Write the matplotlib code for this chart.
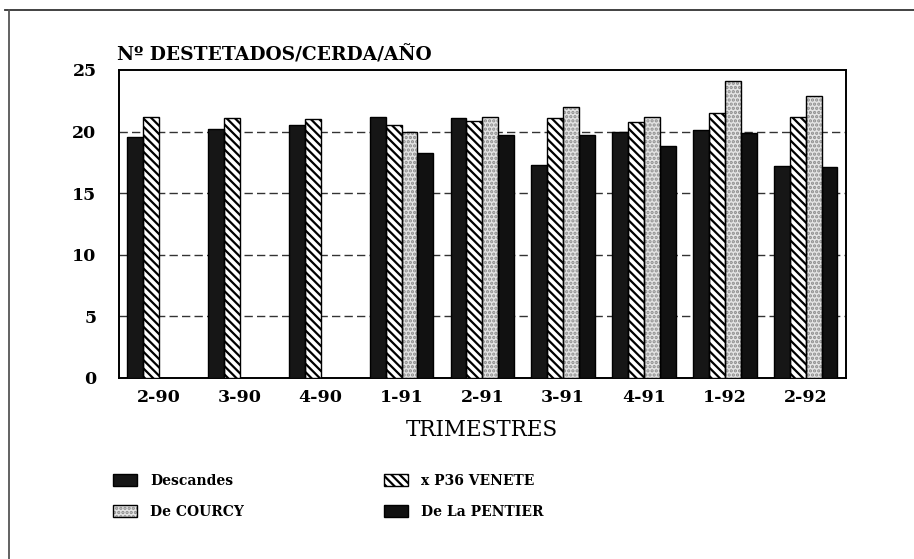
import numpy as np
import matplotlib
matplotlib.use("Agg")
import matplotlib.pyplot as plt
from matplotlib.patches import Patch
from matplotlib.lines import Line2D

categories = ["2-90", "3-90", "4-90", "1-91", "2-91", "3-91", "4-91", "1-92", "2-92"]
descandes = [19.6, 20.2, 20.5, 21.2, 21.1, 17.3, 20.0, 20.1, 17.2]
p36_venete = [21.2, 21.1, 21.0, 20.5, 20.9, 21.1, 20.8, 21.5, 21.2]
de_courcy = [np.nan, np.nan, np.nan, 20.0, 21.2, 22.0, 21.2, 24.1, 22.9]
de_la_pentier = [np.nan, np.nan, np.nan, 18.3, 19.7, 19.7, 18.8, 19.9, 17.1]
series_labels = ["Descandes", "x P36 VENETE", "De COURCY", "De La PENTIER"]
yticks = [0, 5, 10, 15, 20, 25]

plt.rcParams['hatch.linewidth'] = 1.6

BLACK = '#161616'
# fill styles (hatch colour follows edgecolor) ; an outline is drawn on top
styles = [
    dict(facecolor=BLACK, edgecolor=BLACK, hatch=None),
    dict(facecolor='white', edgecolor='black', hatch='\\\\\\\\'),
    dict(facecolor='#e4e4e4', edgecolor='#8c8c8c', hatch='....'),
    dict(facecolor='#111111', edgecolor='#111111', hatch=None),
]

fig = plt.figure(figsize=(9.14, 5.59), dpi=100)
ax = fig.add_axes([0.1299, 0.3238, 0.7957, 0.551])

x = np.arange(len(categories))
w = 0.197
series = [descandes, p36_venete, de_courcy, de_la_pentier]
offsets = [-1.5, -0.5, 0.5, 1.5]
for vals, off, st in zip(series, offsets, styles):
    ax.bar(x + off * w, vals, width=w, linewidth=0.0, zorder=3, **st)
    ax.bar(x + off * w, vals, width=w, fill=False, edgecolor='black',
           linewidth=1.0, zorder=4)

ax.set_xlim(-0.5, len(categories) - 0.5)
ax.set_ylim(0, 25)
ax.set_yticks(yticks)
ax.set_yticklabels([str(t) for t in yticks], fontfamily='DejaVu Serif',
                   fontweight='bold', fontsize=12.5)
ax.set_xticks(x)
ax.set_xticklabels(categories, fontfamily='DejaVu Serif', fontweight='bold', fontsize=12.5)
ax.tick_params(axis='both', length=0, pad=8)
ax.tick_params(axis='y', pad=16)

for t in [5, 10, 15, 20]:
    ax.axhline(t, color='#333333', linestyle=(0, (6, 3)), linewidth=1.0, zorder=1)

for s in ax.spines.values():
    s.set_linewidth(1.4)
    s.set_color('black')

ax.set_xlabel("TRIMESTRES", fontfamily='DejaVu Serif', fontsize=15.5, labelpad=9)
fig.text(117 / 914, 1 - 55 / 559, "Nº DESTETADOS/CERDA/AÑO", fontfamily='DejaVu Serif',
         fontweight='bold', fontsize=13.4, ha='left', va='center')

handles = [(Patch(linewidth=0, **st), Patch(fill=False, edgecolor='black', linewidth=1.0))
           for st in styles]
legkw = dict(frameon=False, loc='upper left', handlelength=1.75, handleheight=1.0,
             handletextpad=0.9, labelspacing=1.2, borderaxespad=0, borderpad=0,
             prop=dict(family='DejaVu Serif', weight='bold', size=10))
leg1 = fig.legend([handles[0], handles[2]], [series_labels[0], series_labels[2]],
                  bbox_to_anchor=(113 / 914, 1 - 474 / 559), **legkw)
leg2 = fig.legend([handles[1], handles[3]], [series_labels[1], series_labels[3]],
                  bbox_to_anchor=(384 / 914, 1 - 474 / 559), **legkw)

# outer frame (top and left edges)
fig.add_artist(Line2D([5 / 914, 1.0], [1 - 9.5 / 559, 1 - 9.5 / 559],
                      transform=fig.transFigure, color='#333333', linewidth=1.3))
fig.add_artist(Line2D([8.5 / 914, 8.5 / 914], [0.0, 1 - 9.5 / 559],
                      transform=fig.transFigure, color='#555555', linewidth=1.3))

fig.savefig("out.png", dpi=100)
